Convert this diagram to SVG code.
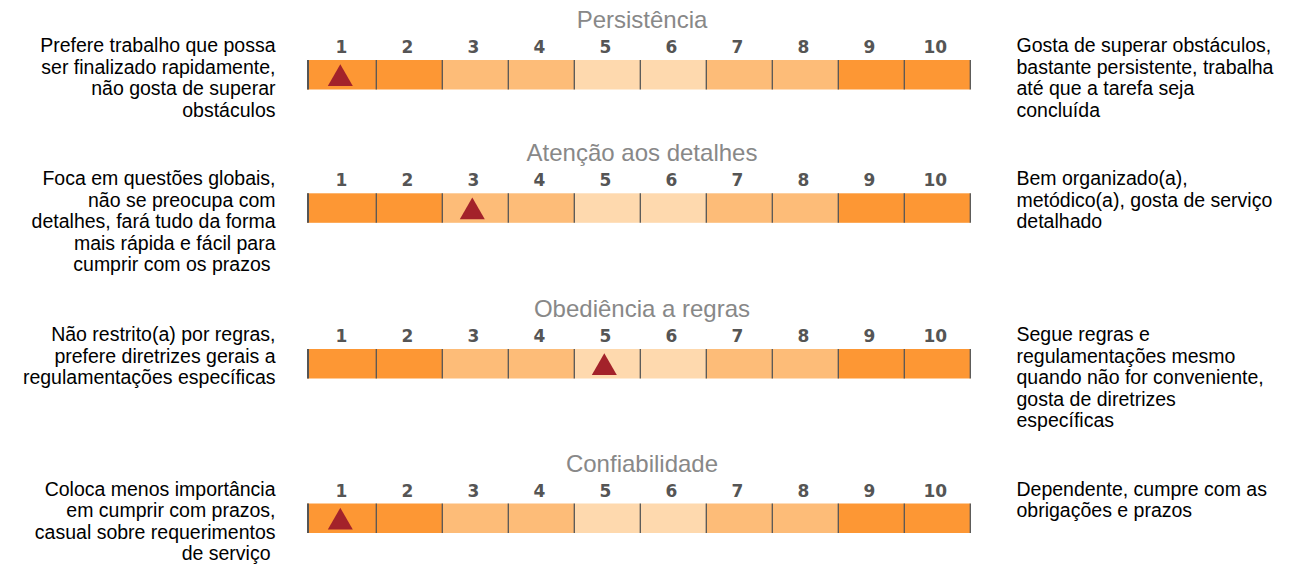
<svg xmlns="http://www.w3.org/2000/svg" width="1291" height="567" viewBox="0 0 1291 567">
<style>
.title{font-family:"Liberation Sans",Arial,sans-serif;font-size:24px;fill:#888;text-anchor:middle}
.num{font-family:"DejaVu Sans",Verdana,sans-serif;font-weight:bold;font-size:17px;fill:#555;text-anchor:middle}
.lt{font-family:"Liberation Sans",Arial,sans-serif;font-size:19.5px;fill:#000;text-anchor:end}
.rt{font-family:"Liberation Sans",Arial,sans-serif;font-size:19.5px;fill:#000}
.d{fill:#FD9734}.m{fill:#FDBC78}.l{fill:#FED9AE}
.div{stroke:#555;stroke-width:1.3}
.edge{stroke:#555;stroke-width:2}
.mark{fill:#A3222A}
</style>
<defs>
<g id="scale">
<rect class="d" x="307" y="0" width="69.3" height="29.5"/>
<rect class="d" x="376.3" y="0" width="66" height="29.5"/>
<rect class="m" x="442.3" y="0" width="66" height="29.5"/>
<rect class="m" x="508.3" y="0" width="66" height="29.5"/>
<rect class="l" x="574.3" y="0" width="66" height="29.5"/>
<rect class="l" x="640.3" y="0" width="66" height="29.5"/>
<rect class="m" x="706.3" y="0" width="66" height="29.5"/>
<rect class="m" x="772.3" y="0" width="66" height="29.5"/>
<rect class="d" x="838.3" y="0" width="66" height="29.5"/>
<rect class="d" x="904.3" y="0" width="66" height="29.5"/>
<line class="edge" x1="308" y1="0" x2="308" y2="29.5"/>
<line class="div" x1="376.3" y1="0" x2="376.3" y2="29.5"/>
<line class="div" x1="442.3" y1="0" x2="442.3" y2="29.5"/>
<line class="div" x1="508.3" y1="0" x2="508.3" y2="29.5"/>
<line class="div" x1="574.3" y1="0" x2="574.3" y2="29.5"/>
<line class="div" x1="640.3" y1="0" x2="640.3" y2="29.5"/>
<line class="div" x1="706.3" y1="0" x2="706.3" y2="29.5"/>
<line class="div" x1="772.3" y1="0" x2="772.3" y2="29.5"/>
<line class="div" x1="838.3" y1="0" x2="838.3" y2="29.5"/>
<line class="div" x1="904.3" y1="0" x2="904.3" y2="29.5"/>
<line class="div" x1="970.3" y1="0" x2="970.3" y2="29.5"/>
</g>
<polygon id="tri" class="mark" points="0,4.3 -12.5,26 12.5,26"/>
</defs>

<g id="row-persistencia" transform="translate(0,60)">
<text class="title" x="642" y="-32">Persistência</text>
<g class="num"><text x="341.3" y="-7">1</text><text x="407.3" y="-7">2</text><text x="473.3" y="-7">3</text><text x="539.3" y="-7">4</text><text x="605.3" y="-7">5</text><text x="671.3" y="-7">6</text><text x="737.3" y="-7">7</text><text x="803.3" y="-7">8</text><text x="869.3" y="-7">9</text><text x="935.3" y="-7">10</text></g>
<use href="#scale"/>
<use href="#tri" x="340.3"/>
<text class="lt"><tspan x="275.5" y="-8">Prefere trabalho que possa</tspan><tspan x="275.5" y="13.5">ser finalizado rapidamente,</tspan><tspan x="275.5" y="35">não gosta de superar</tspan><tspan x="275.5" y="56.5">obstáculos</tspan></text>
<text class="rt"><tspan x="1016.5" y="-8">Gosta de superar obstáculos,</tspan><tspan x="1016.5" y="13.5">bastante persistente, trabalha</tspan><tspan x="1016.5" y="35">até que a tarefa seja</tspan><tspan x="1016.5" y="56.5">concluída</tspan></text>
</g>

<g id="row-atencao" transform="translate(0,193.3)">
<text class="title" x="642" y="-32">Atenção aos detalhes</text>
<g class="num"><text x="341.3" y="-7">1</text><text x="407.3" y="-7">2</text><text x="473.3" y="-7">3</text><text x="539.3" y="-7">4</text><text x="605.3" y="-7">5</text><text x="671.3" y="-7">6</text><text x="737.3" y="-7">7</text><text x="803.3" y="-7">8</text><text x="869.3" y="-7">9</text><text x="935.3" y="-7">10</text></g>
<use href="#scale"/>
<use href="#tri" x="472.3"/>
<text class="lt"><tspan x="275.5" y="-8">Foca em questões globais,</tspan><tspan x="275.5" y="13.5">não se preocupa com</tspan><tspan x="275.5" y="35">detalhes, fará tudo da forma</tspan><tspan x="275.5" y="56.5">mais rápida e fácil para</tspan><tspan x="270.5" y="78">cumprir com os prazos</tspan></text>
<text class="rt"><tspan x="1016.5" y="-8">Bem organizado(a),</tspan><tspan x="1016.5" y="13.5">metódico(a), gosta de serviço</tspan><tspan x="1016.5" y="35">detalhado</tspan></text>
</g>

<g id="row-obediencia" transform="translate(0,349)">
<text class="title" x="642" y="-32">Obediência a regras</text>
<g class="num"><text x="341.3" y="-7">1</text><text x="407.3" y="-7">2</text><text x="473.3" y="-7">3</text><text x="539.3" y="-7">4</text><text x="605.3" y="-7">5</text><text x="671.3" y="-7">6</text><text x="737.3" y="-7">7</text><text x="803.3" y="-7">8</text><text x="869.3" y="-7">9</text><text x="935.3" y="-7">10</text></g>
<use href="#scale"/>
<use href="#tri" x="604.3"/>
<text class="lt"><tspan x="275.5" y="-8">Não restrito(a) por regras,</tspan><tspan x="275.5" y="13.5">prefere diretrizes gerais a</tspan><tspan x="275.5" y="35">regulamentações específicas</tspan></text>
<text class="rt"><tspan x="1016.5" y="-8">Segue regras e</tspan><tspan x="1016.5" y="13.5">regulamentações mesmo</tspan><tspan x="1016.5" y="35">quando não for conveniente,</tspan><tspan x="1016.5" y="56.5">gosta de diretrizes</tspan><tspan x="1016.5" y="78">específicas</tspan></text>
</g>

<g id="row-confiabilidade" transform="translate(0,503.5)">
<text class="title" x="642" y="-32">Confiabilidade</text>
<g class="num"><text x="341.3" y="-7">1</text><text x="407.3" y="-7">2</text><text x="473.3" y="-7">3</text><text x="539.3" y="-7">4</text><text x="605.3" y="-7">5</text><text x="671.3" y="-7">6</text><text x="737.3" y="-7">7</text><text x="803.3" y="-7">8</text><text x="869.3" y="-7">9</text><text x="935.3" y="-7">10</text></g>
<use href="#scale"/>
<use href="#tri" x="340.3"/>
<text class="lt"><tspan x="275.5" y="-8">Coloca menos importância</tspan><tspan x="275.5" y="13.5">em cumprir com prazos,</tspan><tspan x="275.5" y="35">casual sobre requerimentos</tspan><tspan x="270.5" y="56.5">de serviço</tspan></text>
<text class="rt"><tspan x="1016.5" y="-8">Dependente, cumpre com as</tspan><tspan x="1016.5" y="13.5">obrigações e prazos</tspan></text>
</g>
<g id="connectors"/>
</svg>
